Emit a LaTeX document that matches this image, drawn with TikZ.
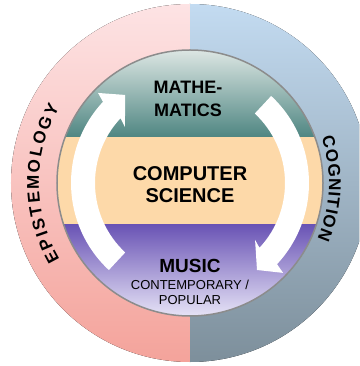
\documentclass[tikz,border=0pt]{standalone}
\usepackage{fontspec}
\setmainfont{Liberation Sans}

\definecolor{pinkTop}{HTML}{FDE3E4}
\definecolor{pinkBot}{HTML}{F4A39B}
\definecolor{blueTop}{HTML}{C3DBF1}
\definecolor{blueBot}{HTML}{7D8F9B}
\definecolor{tealTop}{HTML}{DCE6E3}
\definecolor{tealBot}{HTML}{4F8682}
\definecolor{peach}{HTML}{FDD9A9}
\definecolor{purpleTop}{HTML}{6A54B5}
\definecolor{purpleBot}{HTML}{E6E3F6}
\definecolor{rimGray}{HTML}{8C8C8C}

\tikzset{
  bigtopic/.style={align=center,font=\bfseries\fontsize{20}{21.5}\selectfont},
  subtopic/.style={align=center,font=\fontsize{13}{15}\selectfont},
  ringletter/.style={anchor=base,inner sep=0pt,font=\bfseries\fontsize{17}{20}\selectfont},
  turnarrow/.style={fill=white,draw=none}
}

\begin{document}
\begin{tikzpicture}[x=1pt,y=1pt]
\useasboundingbox (-190,-183) rectangle (169,183);
\clip (-190,-183) rectangle (169,183);
% outer ring
\fill[top color=pinkTop,bottom color=pinkBot] (0,179) arc (90:270:179pt) -- cycle;
\fill[top color=blueTop,bottom color=blueBot] (0,179) arc (90:-90:179pt) -- cycle;
% inner disc
\begin{scope}
	\clip (0,0) circle (133pt);
	\fill[top color=tealTop,bottom color=tealBot] (-133,46) rectangle (133,133);
	\fill[peach] (-133,-42) rectangle (133,46);
	\fill[top color=purpleTop,bottom color=purpleBot] (-133,-133) rectangle (133,-42);
\end{scope}
\draw[rimGray,line width=1.5pt] (0,0) circle (133pt);

% arrows
\fill[turnarrow] (227:119) arc (227:137:119pt) -- (135.6:128.7) -- (126.4:109.4) -- (139.3:85.8) -- (137:95) arc (137:227:95pt) -- cycle;
\fill[turnarrow] (47:119) arc (47:-43:119pt) -- (-44:129.4) -- (-52.4:109.8) -- (-41.2:86.5) -- (-43:95) arc (-43:47:95pt) -- cycle;

\draw (-2,84.5) node[bigtopic,font=\bfseries\fontsize{18}{23}\selectfont] (Math) {MATHE-\\MATICS};
\draw (0,-1.75) node[bigtopic] (CompSci) {COMPUTER\\SCIENCE};
\draw (0,-83) node[bigtopic,font=\bfseries\fontsize{19}{21}\selectfont] (Music) {MUSIC};
\draw (0,-109.5) node[subtopic] (MusicKind) {CONTEMPORARY /\\POPULAR};

% ring labels, one letter at a time
\foreach \ch/\ang [count=\i] in {E/208.2,P/203.1,I/199.2,S/195.3,T/190.4,E/185.4,M/179.8,O/173.8,L/168.5,O/163.3,G/157.5,Y/152.0}
	\draw (\ang:151) node[ringletter,rotate=\ang-90] (Epi\i) {\ch};
\foreach \ch/\ang [count=\i] in {C/16.4,O/10.9,G/5.1,N/-0.5,I/-4.4,T/-7.9,I/-11.4,O/-15.5,N/-21.0}
	\draw (\ang:139) node[ringletter,rotate=\ang-90] (Cog\i) {\ch};
\end{tikzpicture}
\end{document}
